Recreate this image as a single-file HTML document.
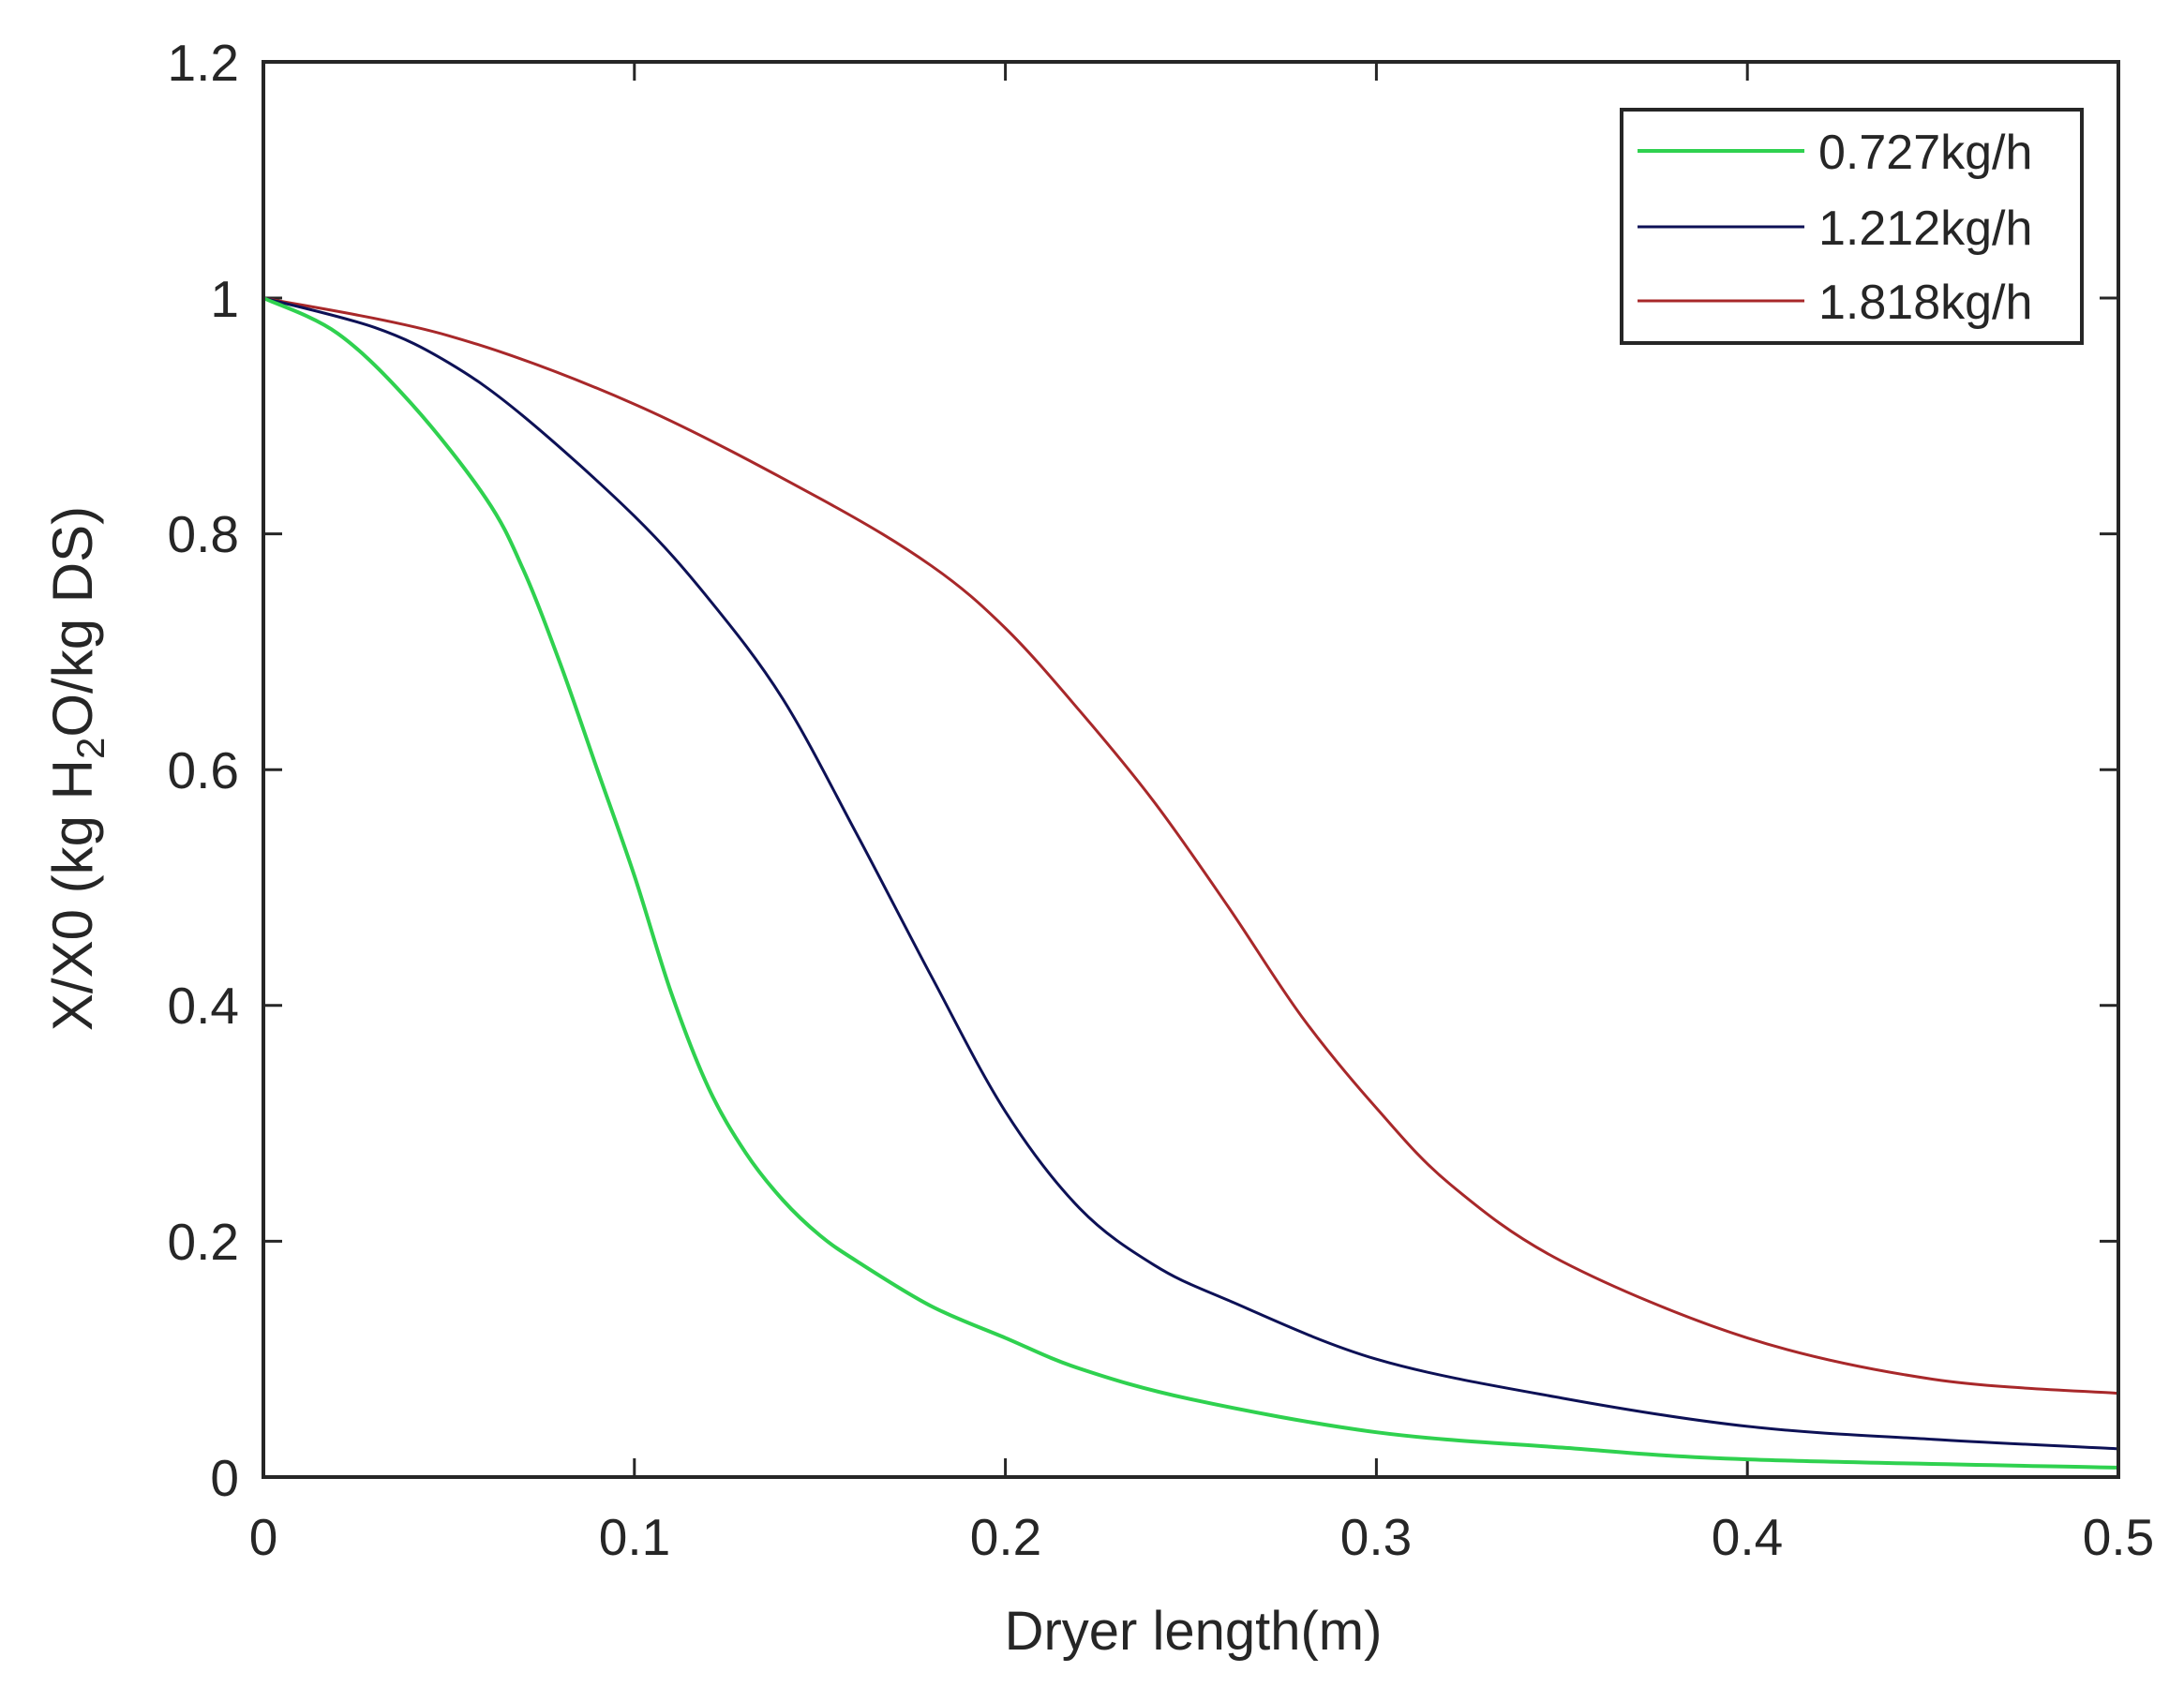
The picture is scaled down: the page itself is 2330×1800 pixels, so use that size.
<!DOCTYPE html>
<html><head><meta charset="utf-8"><style>
html,body{margin:0;padding:0;background:#fff;}
svg text{font-family:"Liberation Sans",sans-serif;fill:#262626;}
</style></head><body>
<svg id="s" width="2330" height="1795" viewBox="0 0 2330 1795" xmlns="http://www.w3.org/2000/svg">
<rect width="2330" height="1795" fill="#fff"/>
<g id="ticks" stroke="#262626" stroke-width="3"></g>
<g id="curves" fill="none" stroke-width="3"></g>
<rect x="281" y="66" width="1979" height="1510" fill="none" stroke="#262626" stroke-width="4"/>
<g font-size="55">
<text x="255" y="86" text-anchor="end">1.2</text>
<text x="255" y="338" text-anchor="end">1</text>
<text x="255" y="589" text-anchor="end">0.8</text>
<text x="255" y="841" text-anchor="end">0.6</text>
<text x="255" y="1092" text-anchor="end">0.4</text>
<text x="255" y="1344" text-anchor="end">0.2</text>
<text x="255" y="1596" text-anchor="end">0</text>
<text x="281" y="1659" text-anchor="middle">0</text>
<text x="677" y="1659" text-anchor="middle">0.1</text>
<text x="1073" y="1659" text-anchor="middle">0.2</text>
<text x="1468" y="1659" text-anchor="middle">0.3</text>
<text x="1864" y="1659" text-anchor="middle">0.4</text>
<text x="2260" y="1659" text-anchor="middle">0.5</text>
</g>
<text x="1273" y="1760" font-size="58" text-anchor="middle">Dryer length(m)</text>
<text transform="translate(98,820) rotate(-90)" font-size="60" text-anchor="middle">X/X0 (kg H<tspan font-size="42" dy="13">2</tspan><tspan dy="-13">O/kg DS)</tspan></text>
<rect x="1730" y="117" width="491" height="249" fill="#fff" stroke="#262626" stroke-width="4"/>
<line x1="1747" y1="161" x2="1925" y2="161" stroke="#2fd14f" stroke-width="4"/>
<line x1="1747" y1="242" x2="1925" y2="242" stroke="#0d1156" stroke-width="3"/>
<line x1="1747" y1="321" x2="1925" y2="321" stroke="#a8282a" stroke-width="3"/>
<g font-size="52">
<text x="1940" y="180">0.727kg/h</text>
<text x="1940" y="261">1.212kg/h</text>
<text x="1940" y="340">1.818kg/h</text>
</g>
</svg>
<script>
const X=v=>281+v*3958, Y=v=>1576-v*1258;
const t=document.getElementById('ticks');let h='';
for(let i=0;i<=5;i++){const x=X(i/10);h+=`<line x1="${x}" y1="1576" x2="${x}" y2="1556"/><line x1="${x}" y1="66" x2="${x}" y2="86"/>`;}
for(let i=0;i<=6;i++){const y=Y(i*0.2);h+=`<line x1="281" y1="${y}" x2="301" y2="${y}"/><line x1="2260" y1="${y}" x2="2240" y2="${y}"/>`;}
t.innerHTML=h;
const G=[[0,1],[0.02,0.97],[0.04,0.91],[0.06,0.83],[0.07,0.77],[0.08,0.69],[0.09,0.6],[0.1,0.51],[0.11,0.41],[0.12,0.33],[0.13,0.275],[0.14,0.235],[0.15,0.205],[0.16,0.183],[0.18,0.145],[0.2,0.118],[0.22,0.092],[0.25,0.066],[0.3,0.038],[0.35,0.025],[0.4,0.015],[0.5,0.008]];
const B=[[0,1],[0.03,0.975],[0.05,0.945],[0.07,0.9],[0.1,0.815],[0.12,0.745],[0.14,0.66],[0.16,0.545],[0.18,0.425],[0.2,0.31],[0.22,0.228],[0.24,0.18],[0.26,0.15],[0.3,0.1],[0.35,0.067],[0.4,0.043],[0.45,0.032],[0.5,0.024]];
const R=[[0,1],[0.05,0.968],[0.1,0.91],[0.15,0.83],[0.18,0.773],[0.2,0.72],[0.22,0.65],[0.24,0.573],[0.26,0.484],[0.28,0.39],[0.3,0.313],[0.32,0.248],[0.35,0.183],[0.4,0.118],[0.45,0.083],[0.5,0.071]];
function path(p){const q=p.map(a=>[X(a[0]),Y(a[1])]);let d=`M${q[0][0]},${q[0][1]}`;
for(let i=0;i<q.length-1;i++){const p0=q[Math.max(0,i-1)],p1=q[i],p2=q[i+1],p3=q[Math.min(q.length-1,i+2)];
d+=`C${p1[0]+(p2[0]-p0[0])/6},${p1[1]+(p2[1]-p0[1])/6} ${p2[0]-(p3[0]-p1[0])/6},${p2[1]-(p3[1]-p1[1])/6} ${p2[0]},${p2[1]}`;}return d;}
document.getElementById('curves').innerHTML=
`<path d="${path(R)}" stroke="#a8282a"/><path d="${path(B)}" stroke="#0d1156"/><path d="${path(G)}" stroke="#2fd14f" stroke-width="4"/>`;
</script>
</body></html>
